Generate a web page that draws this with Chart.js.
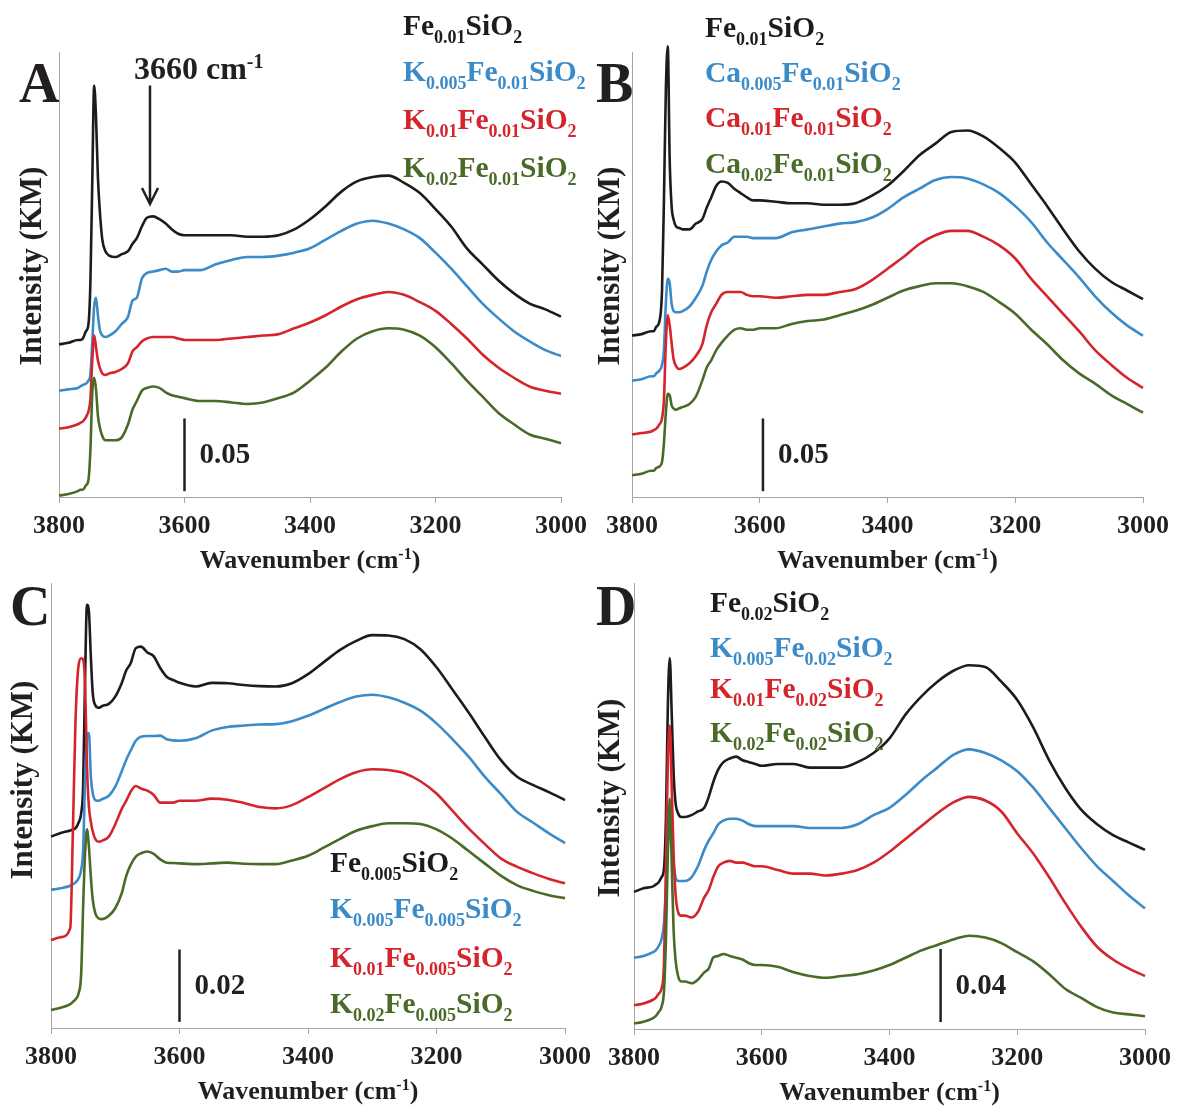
<!DOCTYPE html>
<html>
<head>
<meta charset="utf-8">
<script src="https://cdn.jsdelivr.net/npm/chart.js@4.4.1/dist/chart.umd.min.js"></script>
<style>
  html, body { margin: 0; padding: 0; background: #fff; }
  body { width: 1179px; height: 1106px; position: relative; overflow: hidden; }
  canvas { position: absolute; }
</style>
</head>
<body>
<canvas id="panelA" width="600" height="580" style="left:0px;top:0px"></canvas>
<canvas id="panelB" width="589" height="580" style="left:590px;top:0px"></canvas>
<canvas id="panelC" width="600" height="526" style="left:0px;top:580px"></canvas>
<canvas id="panelD" width="589" height="526" style="left:590px;top:580px"></canvas>
<script>
// Wavenumbers (cm-1) shared by every spectrum, denser around the 3745 band
const wavenumbers = [3800, 3785, 3770, 3766, 3762, 3757, 3753, 3750, 3747, 3744, 3741, 3738, 3735, 3731, 3726, 3720, 3710, 3700, 3690, 3683, 3676, 3668, 3660, 3650, 3640, 3630, 3620, 3610, 3600,
  3575, 3550, 3525, 3500, 3475, 3450, 3425, 3400, 3375, 3350, 3325, 3300, 3275, 3250, 3225, 3200, 3175, 3150, 3125, 3100, 3075, 3050, 3025, 3000];
const xTicks = [3800, 3600, 3400, 3200, 3000];

// Panel A (KM units, stacked as in the figure)
const aFe001 = [0.105, 0.106, 0.108, 0.108, 0.109, 0.114, 0.119, 0.147, 0.216, 0.283, 0.261, 0.220, 0.197, 0.177, 0.169, 0.166, 0.165, 0.167, 0.169, 0.174, 0.178, 0.186, 0.192, 0.193, 0.191, 0.188, 0.184, 0.181, 0.180,
  0.180, 0.180, 0.180, 0.179, 0.179, 0.180, 0.184, 0.191, 0.200, 0.210, 0.217, 0.220, 0.221, 0.216, 0.209, 0.198, 0.186, 0.171, 0.160, 0.149, 0.140, 0.133, 0.129, 0.124];
const aK0005 = [0.073, 0.074, 0.075, 0.076, 0.077, 0.078, 0.080, 0.084, 0.106, 0.131, 0.137, 0.125, 0.115, 0.111, 0.110, 0.111, 0.114, 0.119, 0.124, 0.135, 0.137, 0.150, 0.154, 0.155, 0.156, 0.157, 0.155, 0.155, 0.156,
  0.156, 0.160, 0.163, 0.165, 0.165, 0.166, 0.168, 0.171, 0.177, 0.183, 0.188, 0.190, 0.188, 0.184, 0.178, 0.168, 0.157, 0.145, 0.133, 0.123, 0.114, 0.107, 0.101, 0.097];
const aK001 = [0.047, 0.048, 0.050, 0.051, 0.052, 0.055, 0.059, 0.067, 0.094, 0.111, 0.103, 0.094, 0.089, 0.085, 0.084, 0.085, 0.086, 0.088, 0.092, 0.100, 0.103, 0.107, 0.109, 0.110, 0.110, 0.110, 0.110, 0.109, 0.108,
  0.108, 0.108, 0.109, 0.110, 0.111, 0.112, 0.116, 0.120, 0.125, 0.131, 0.136, 0.139, 0.141, 0.139, 0.134, 0.128, 0.119, 0.109, 0.098, 0.089, 0.082, 0.076, 0.073, 0.071];
const aK002 = [0.001, 0.002, 0.004, 0.005, 0.005, 0.008, 0.012, 0.032, 0.071, 0.082, 0.074, 0.056, 0.048, 0.042, 0.039, 0.039, 0.039, 0.041, 0.050, 0.060, 0.066, 0.073, 0.075, 0.076, 0.075, 0.072, 0.070, 0.069, 0.068,
  0.066, 0.066, 0.065, 0.064, 0.065, 0.068, 0.072, 0.080, 0.089, 0.100, 0.109, 0.114, 0.116, 0.115, 0.111, 0.103, 0.092, 0.080, 0.069, 0.058, 0.050, 0.043, 0.040, 0.037];

// Panel B
const bFe001 = [0.111, 0.112, 0.114, 0.114, 0.117, 0.121, 0.142, 0.204, 0.280, 0.310, 0.232, 0.200, 0.191, 0.186, 0.185, 0.184, 0.184, 0.188, 0.191, 0.199, 0.206, 0.214, 0.217, 0.216, 0.212, 0.209, 0.206, 0.204, 0.204,
  0.203, 0.202, 0.202, 0.201, 0.201, 0.202, 0.207, 0.214, 0.224, 0.235, 0.243, 0.251, 0.252, 0.248, 0.240, 0.230, 0.215, 0.200, 0.184, 0.169, 0.157, 0.148, 0.142, 0.136];
const bCa0005 = [0.080, 0.081, 0.083, 0.083, 0.085, 0.087, 0.091, 0.101, 0.133, 0.150, 0.147, 0.133, 0.128, 0.127, 0.127, 0.128, 0.131, 0.137, 0.145, 0.155, 0.163, 0.169, 0.173, 0.175, 0.179, 0.179, 0.179, 0.178, 0.178,
  0.178, 0.182, 0.184, 0.186, 0.188, 0.189, 0.192, 0.198, 0.206, 0.212, 0.218, 0.220, 0.219, 0.215, 0.209, 0.200, 0.189, 0.175, 0.163, 0.151, 0.138, 0.127, 0.118, 0.111];
const bCa001 = [0.043, 0.044, 0.045, 0.046, 0.047, 0.050, 0.054, 0.067, 0.106, 0.125, 0.118, 0.106, 0.095, 0.090, 0.088, 0.089, 0.092, 0.097, 0.105, 0.118, 0.127, 0.133, 0.139, 0.141, 0.141, 0.141, 0.139, 0.138, 0.138,
  0.137, 0.138, 0.139, 0.139, 0.141, 0.143, 0.149, 0.157, 0.165, 0.174, 0.180, 0.183, 0.183, 0.179, 0.173, 0.164, 0.150, 0.138, 0.126, 0.114, 0.101, 0.091, 0.082, 0.075];
const bCa002 = [0.015, 0.016, 0.018, 0.018, 0.020, 0.021, 0.024, 0.037, 0.058, 0.071, 0.070, 0.063, 0.061, 0.060, 0.061, 0.062, 0.064, 0.069, 0.080, 0.089, 0.094, 0.101, 0.106, 0.111, 0.115, 0.116, 0.115, 0.115, 0.116,
  0.116, 0.119, 0.121, 0.122, 0.125, 0.128, 0.132, 0.137, 0.142, 0.145, 0.147, 0.147, 0.145, 0.141, 0.134, 0.126, 0.115, 0.105, 0.094, 0.085, 0.078, 0.070, 0.064, 0.058];

// Panel C
const cFe0005 = [0.0529, 0.0539, 0.0546, 0.0549, 0.0552, 0.0568, 0.0594, 0.0667, 0.0962, 0.1170, 0.1151, 0.1027, 0.0925, 0.0892, 0.0885, 0.0890, 0.0896, 0.0916, 0.0953, 0.0988, 0.1008, 0.1050, 0.1054, 0.1038, 0.1027, 0.0995, 0.0971, 0.0962, 0.0954,
  0.0944, 0.0954, 0.0953, 0.0948, 0.0945, 0.0944, 0.0953, 0.0978, 0.1012, 0.1045, 0.1070, 0.1086, 0.1085, 0.1075, 0.1047, 0.0997, 0.0935, 0.0872, 0.0805, 0.0741, 0.0695, 0.0672, 0.0652, 0.0630];
const cK0005 = [0.0382, 0.0386, 0.0393, 0.0397, 0.0402, 0.0414, 0.0437, 0.0492, 0.0686, 0.0805, 0.0815, 0.0695, 0.0649, 0.0630, 0.0628, 0.0633, 0.0642, 0.0667, 0.0709, 0.0741, 0.0767, 0.0794, 0.0805, 0.0807, 0.0807, 0.0808, 0.0798, 0.0795, 0.0794,
  0.0801, 0.0822, 0.0832, 0.0836, 0.0839, 0.0840, 0.0848, 0.0863, 0.0882, 0.0901, 0.0916, 0.0921, 0.0914, 0.0899, 0.0877, 0.0842, 0.0798, 0.0750, 0.0695, 0.0647, 0.0598, 0.0568, 0.0538, 0.0511];
const cK001 = [0.0243, 0.0251, 0.0276, 0.0538, 0.0842, 0.1004, 0.1022, 0.1018, 0.0953, 0.0723, 0.0612, 0.0570, 0.0543, 0.0522, 0.0515, 0.0518, 0.0529, 0.0563, 0.0605, 0.0628, 0.0653, 0.0669, 0.0662, 0.0656, 0.0644, 0.0623, 0.0623, 0.0623, 0.0628,
  0.0628, 0.0634, 0.0631, 0.0622, 0.0611, 0.0607, 0.0616, 0.0638, 0.0663, 0.0688, 0.0707, 0.0715, 0.0713, 0.0704, 0.0682, 0.0648, 0.0600, 0.0552, 0.0509, 0.0469, 0.0446, 0.0428, 0.0412, 0.0400];
const cK002 = [0.0050, 0.0056, 0.0066, 0.0072, 0.0079, 0.0096, 0.0151, 0.0335, 0.0483, 0.0549, 0.0501, 0.0418, 0.0354, 0.0317, 0.0303, 0.0301, 0.0310, 0.0331, 0.0372, 0.0420, 0.0451, 0.0474, 0.0483, 0.0488, 0.0481, 0.0466, 0.0457, 0.0456, 0.0455,
  0.0453, 0.0455, 0.0457, 0.0454, 0.0453, 0.0453, 0.0463, 0.0476, 0.0499, 0.0523, 0.0545, 0.0558, 0.0566, 0.0566, 0.0564, 0.0549, 0.0523, 0.0489, 0.0455, 0.0421, 0.0395, 0.0379, 0.0367, 0.0359];

// Panel D
const dFe002 = [0.075, 0.077, 0.078, 0.079, 0.080, 0.083, 0.088, 0.115, 0.177, 0.203, 0.173, 0.140, 0.124, 0.118, 0.116, 0.116, 0.117, 0.119, 0.121, 0.127, 0.135, 0.142, 0.146, 0.148, 0.149, 0.147, 0.146, 0.145, 0.144,
  0.145, 0.145, 0.143, 0.143, 0.143, 0.146, 0.151, 0.159, 0.172, 0.182, 0.190, 0.196, 0.199, 0.198, 0.190, 0.180, 0.165, 0.147, 0.132, 0.120, 0.112, 0.106, 0.102, 0.098];
const dK0005 = [0.039, 0.040, 0.042, 0.043, 0.045, 0.049, 0.058, 0.078, 0.100, 0.109, 0.101, 0.091, 0.083, 0.081, 0.081, 0.081, 0.083, 0.089, 0.098, 0.103, 0.107, 0.112, 0.114, 0.115, 0.115, 0.114, 0.112, 0.111, 0.111,
  0.111, 0.111, 0.110, 0.110, 0.110, 0.112, 0.117, 0.121, 0.128, 0.136, 0.143, 0.150, 0.153, 0.151, 0.147, 0.141, 0.132, 0.121, 0.110, 0.099, 0.089, 0.081, 0.073, 0.066];
const dK001 = [0.013, 0.014, 0.016, 0.017, 0.019, 0.022, 0.036, 0.089, 0.147, 0.166, 0.133, 0.096, 0.074, 0.064, 0.062, 0.062, 0.061, 0.064, 0.072, 0.076, 0.083, 0.089, 0.091, 0.092, 0.091, 0.091, 0.090, 0.089, 0.089,
  0.087, 0.085, 0.085, 0.084, 0.085, 0.087, 0.091, 0.097, 0.104, 0.111, 0.118, 0.124, 0.127, 0.125, 0.119, 0.107, 0.096, 0.083, 0.069, 0.056, 0.045, 0.038, 0.033, 0.029];
const dK002 = [0.003, 0.004, 0.006, 0.007, 0.009, 0.012, 0.021, 0.049, 0.096, 0.126, 0.091, 0.054, 0.038, 0.029, 0.026, 0.026, 0.025, 0.027, 0.031, 0.033, 0.039, 0.040, 0.041, 0.040, 0.039, 0.038, 0.036, 0.035, 0.035,
  0.034, 0.031, 0.029, 0.028, 0.029, 0.030, 0.032, 0.035, 0.039, 0.043, 0.046, 0.049, 0.051, 0.050, 0.047, 0.042, 0.037, 0.030, 0.022, 0.017, 0.012, 0.009, 0.008, 0.007];

// Legend labels: {..} = subscript, [..] = superscript
const legendA = ['Fe{0.01}SiO{2}', 'K{0.005}Fe{0.01}SiO{2}', 'K{0.01}Fe{0.01}SiO{2}', 'K{0.02}Fe{0.01}SiO{2}'];
const legendB = ['Fe{0.01}SiO{2}', 'Ca{0.005}Fe{0.01}SiO{2}', 'Ca{0.01}Fe{0.01}SiO{2}', 'Ca{0.02}Fe{0.01}SiO{2}'];
const legendC = ['Fe{0.005}SiO{2}', 'K{0.005}Fe{0.005}SiO{2}', 'K{0.01}Fe{0.005}SiO{2}', 'K{0.02}Fe{0.005}SiO{2}'];
const legendD = ['Fe{0.02}SiO{2}', 'K{0.005}Fe{0.02}SiO{2}', 'K{0.01}Fe{0.02}SiO{2}', 'K{0.02}Fe{0.02}SiO{2}'];
const xTitle = 'Wavenumber (cm[-1])';
const yTitle = 'Intensity (KM)';

const FONT = '"Liberation Serif", "Times New Roman", serif';
const TEXT = '#231f20';
const AXIS = '#a6a6a6';
const colors = ['#1f1b1c', '#3b8bc9', '#d4242c', '#4a6a28'];

// split 'Fe{0.01}SiO{2}' into runs of normal / sub / sup text
function richParts(s) {
  return s.split(/(\{[^}]*\}|\[[^\]]*\])/).filter(p => p).map(p => {
    if (p[0] === '{') return { t: p.slice(1, -1), mode: 'sub' };
    if (p[0] === '[') return { t: p.slice(1, -1), mode: 'sup' };
    return { t: p, mode: 'main' };
  });
}

function drawRich(ctx, s, x, y, size, color, align) {
  const parts = richParts(s);
  const small = Math.round(size * 0.62);
  let w = 0;
  parts.forEach(p => {
    p.font = 'bold ' + (p.mode === 'main' ? size : small) + 'px ' + FONT;
    ctx.font = p.font;
    p.w = ctx.measureText(p.t).width;
    w += p.w;
  });
  let cx = align === 'center' ? x - w / 2 : x;
  ctx.fillStyle = color;
  ctx.textAlign = 'left';
  ctx.textBaseline = 'alphabetic';
  parts.forEach(p => {
    ctx.font = p.font;
    const dy = p.mode === 'sub' ? size * 0.27 : (p.mode === 'sup' ? -size * 0.36 : 0);
    ctx.fillText(p.t, cx, y + dy);
    cx += p.w;
  });
}

// texts, scale bar and arrow drawn on top of each panel
const decoPlugin = {
  id: 'deco',
  afterDraw(chart, args, o) {
    const ctx = chart.ctx;
    const xs = chart.scales.x;
    const ys = chart.scales.y;
    const ca = chart.chartArea;
    ctx.save();

    drawRich(ctx, xTitle, (ca.left + ca.right) / 2, ca.bottom + 71, 26, TEXT, 'center');

    ctx.save();
    ctx.translate(o.yTitlePos[0], o.yTitlePos[1]);
    ctx.rotate(-Math.PI / 2);
    drawRich(ctx, yTitle, 0, 7, 31, TEXT, 'center');
    ctx.restore();

    ctx.font = 'bold 56px ' + FONT;
    ctx.fillStyle = TEXT;
    ctx.textAlign = 'left';
    ctx.textBaseline = 'alphabetic';
    ctx.fillText(o.letter, o.letterPos[0], o.letterPos[1]);

    o.legend.forEach((s, i) => drawRich(ctx, s, o.legendX, o.legendY[i], 29.5, colors[i], 'left'));

    // scale bar
    const bx = xs.getPixelForValue(o.bar.x);
    const by1 = ys.getPixelForValue(o.bar.from);
    const by2 = ys.getPixelForValue(o.bar.to);
    ctx.strokeStyle = TEXT;
    ctx.lineWidth = 2.5;
    ctx.beginPath();
    ctx.moveTo(bx, by1);
    ctx.lineTo(bx, by2);
    ctx.stroke();
    ctx.font = 'bold 29px ' + FONT;
    ctx.fillStyle = TEXT;
    ctx.textBaseline = 'middle';
    ctx.fillText(o.bar.label, bx + 15, (by1 + by2) / 2 + 1);

    if (o.arrow) {
      const ax = xs.getPixelForValue(o.arrow.x);
      const ay1 = ys.getPixelForValue(o.arrow.from);
      const ay2 = ys.getPixelForValue(o.arrow.to);
      ctx.lineWidth = 2.5;
      ctx.beginPath();
      ctx.moveTo(ax, ay1);
      ctx.lineTo(ax, ay2);
      ctx.moveTo(ax - 8, ay2 - 16);
      ctx.lineTo(ax, ay2);
      ctx.lineTo(ax + 8, ay2 - 16);
      ctx.stroke();
      drawRich(ctx, o.arrow.label, ax - 16, ay1 - 6, 32, TEXT, 'left');
    }
    ctx.restore();
  }
};

function makePanel(cfg) {
  const datasets = cfg.series.map((vals, i) => ({
    data: vals.map((v, j) => ({ x: wavenumbers[j], y: v })),
    borderColor: colors[i],
    borderWidth: 2.6,
    pointRadius: 0,
    cubicInterpolationMode: 'monotone',
    borderJoinStyle: 'round',
    clip: false,
    order: 3 - i
  }));
  new Chart(document.getElementById(cfg.id), {
    type: 'line',
    data: { datasets: datasets },
    plugins: [decoPlugin],
    options: {
      responsive: false,
      animation: false,
      devicePixelRatio: 1,
      layout: { padding: { left: 0, top: cfg.pad.top, right: cfg.pad.right, bottom: cfg.pad.bottom } },
      plugins: {
        legend: { display: false },
        tooltip: { enabled: false },
        deco: cfg.deco
      },
      scales: {
        x: {
          type: 'linear',
          reverse: true,
          min: 3000,
          max: 3800,
          afterBuildTicks: s => { s.ticks = xTicks.map(v => ({ value: v })); },
          afterFit: s => { s.height = 60; },
          ticks: {
            color: TEXT,
            padding: 8,
            maxRotation: 0,
            font: { family: FONT, size: 26, weight: 'bold' },
            callback: v => String(v)
          },
          grid: { display: true, drawOnChartArea: false, drawTicks: true, tickLength: 6, color: AXIS },
          border: { display: true, color: AXIS, width: 1 }
        },
        y: {
          min: 0,
          max: cfg.yMax,
          afterFit: s => { s.width = cfg.axisW; },
          ticks: { display: false },
          grid: { display: false },
          border: { display: true, color: AXIS, width: 1 }
        }
      }
    }
  });
}

makePanel({
  id: 'panelA', series: [aFe001, aK0005, aK001, aK002], yMax: 0.306, axisW: 59,
  pad: { top: 52, right: 39, bottom: 23 },
  deco: { letter: 'A', letterPos: [19, 102], yTitlePos: [34, 266], legend: legendA, legendX: 403, legendY: [35, 81, 129, 177],
    bar: { x: 3600, from: 0.004, to: 0.054, label: '0.05' },
    arrow: { x: 3655, from: 0.283, to: 0.2015, label: '3660 cm[-1]' } }
});
makePanel({
  id: 'panelB', series: [bFe001, bCa0005, bCa001, bCa002], yMax: 0.306, axisW: 42,
  pad: { top: 52, right: 36, bottom: 23 },
  deco: { letter: 'B', letterPos: [6, 102], yTitlePos: [22, 266], legend: legendB, legendX: 115, legendY: [37, 82, 127, 173],
    bar: { x: 3595, from: 0.004, to: 0.054, label: '0.05' } }
});
makePanel({
  id: 'panelC', series: [cFe0005, cK0005, cK001, cK002], yMax: 0.123, axisW: 51,
  pad: { top: 3, right: 35, bottom: 18 },
  deco: { letter: 'C', letterPos: [10, 45], yTitlePos: [25, 200], legend: legendC, legendX: 330, legendY: [292, 338, 387, 433],
    bar: { x: 3600, from: 0.0017, to: 0.0217, label: '0.02' } }
});
makePanel({
  id: 'panelD', series: [dFe002, dK0005, dK001, dK002], yMax: 0.244, axisW: 44,
  pad: { top: 3, right: 27, bottom: 17 },
  deco: { letter: 'D', letterPos: [6, 45], yTitlePos: [22, 218], legend: legendD, legendX: 120, legendY: [32, 77, 118, 162],
    bar: { x: 3320, from: 0.0038, to: 0.0438, label: '0.04' } }
});
</script>
</body>
</html>
